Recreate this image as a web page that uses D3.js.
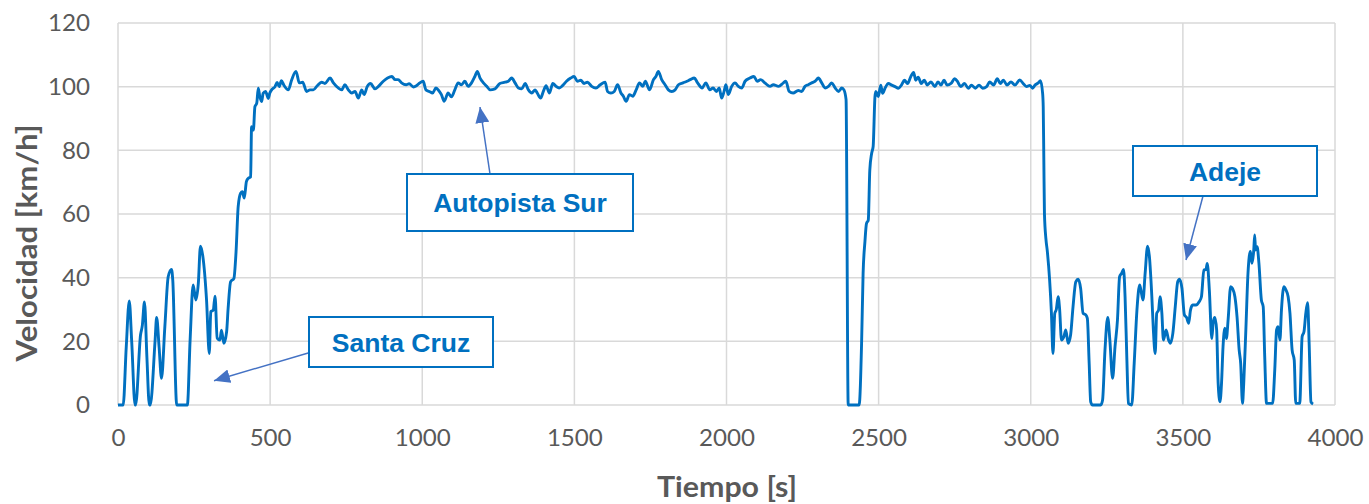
<!DOCTYPE html>
<html><head><meta charset="utf-8">
<script src="https://cdn.jsdelivr.net/npm/d3@7"></script>
<style>body{margin:0;background:#fff}svg{display:block}</style>
</head><body>
<svg id="c" width="1369" height="504"></svg>
<script>
// ---- data ----
const time_s = [0,17,27,37,45,56,58,74,80,87,95,103,106,122,127,135,143,154,165,176,180,193,228,237,247,256,264,271,279,291,300,305,313,319,326,335,340,348,357,362,370,381,388,
395,403,409,415,422,428,436,439,445,450,456,461,466,472,477,485,494,499,505,516,523,530,537,545,
560,571,585,596,607,620,631,642,655,669,680,697,708,724,735,746,757,768,779,790,801,809,819,830,845,856,872,886,900,911,921,932,947,957,971,981,992,1003,1012,1023,1034,1045,1056,1063,1072,1085,1096,1107,1118,1129,1140,1151,1162,1173,1181,1190,1201,1212,1223,
1239,1255,1272,1283,1294,1305,1316,1327,1338,1349,1360,1371,1378,1389,1398,1407,1418,1429,1440,1450,1461,1474,1488,1499,1510,1521,1532,1543,1557,1571,1585,1601,1609,1620,1631,1642,1653,1661,1670,1681,1692,1703,1714,1725,1733,1747,1760,1768,1776,1787,1798,1809,1820,1831,1842,1857,1870,1881,1894,1905,
1920,1932,1945,1956,1967,1976,1984,1992,1998,2006,2017,2028,2039,2050,2061,2077,2090,2101,2112,2126,2143,2154,2171,2187,2195,2206,2219,2236,2247,2258,2269,2280,2291,2302,2313,2324,2335,2346,2357,2368,2379,2386,2393,
2400,2436,2444,2449,2455,2460,2466,2471,2477,2482,2488,2491,2499,2507,2513,2521,2532,2543,2554,2565,
2575,2585,2595,2605,2615,2622,2630,2640,2650,2660,2672,2685,2695,2705,2715,2725,2738,2750,2760,2770,2782,2795,2805,2818,2830,2842,2855,2865,2878,2890,2900,2910,2922,2935,2948,
2964,2975,2986,2997,3006,3014,3025,3032,3039,3041,3043,3045,3050,3054,3062,3068,3073,3079,3084,3090,3095,3101,3109,3115,3123,3131,3139,3148,3156,3164,3172,3181,3186,3192,3197,3203,3230,3236,3244,3253,3260,3269,3277,3285,3292,3299,3305,3310,3316,3321,3332,3340,3349,3358,3362,3369,3376,3384,3390,3398,3403,3409,3414,3420,3425,3431,3436,3445,3453,3459,3467,3475,3483,3489,3497,3505,
3512,3519,3525,3532,3543,3554,3561,3569,3576,3580,3587,3595,3600,3605,3611,3616,3622,3627,3632,3638,3643,3649,3657,3663,3671,3678,3685,3690,3696,3700,3707,3714,3722,3727,3733,3736,3739,3744,3750,3758,3764,3769,3775,3795,3802,3808,3813,3819,3824,3832,3839,3846,3852,3859,3866,3871,3884,3892,3898,3904,3910,3915,3921,3928];
const speed_kmh = [0,0,18,32.7,20,0,0,22,25,32.4,15,0,0,20.4,27.5,18.3,8.4,24.6,40.3,42.6,39.2,0,0,20.4,37.7,33,38.2,49.9,46.6,33,16.2,29.3,29.8,34.2,21,20.4,23.5,19.4,23,30.4,38.7,39.8,48.1,
62.3,66.5,67,65,70.2,71.2,71.7,87.4,86.4,93.7,94.8,99.5,96.9,95.3,97.9,98.5,96.3,98,99,100,101.3,100,101.9,100.5,
99,102.2,104.8,101.2,101.4,98.5,99,99,100.3,101.4,101,102.7,101.2,99.6,99,100.6,99,98,98.5,96.4,99,97.5,100,101,99.3,100.1,101.7,102.7,103.2,102.2,102.2,101.2,100.6,100.9,99.9,100.3,101.2,101.7,99,98.5,98,99.6,98.5,97.5,95.4,98,96.8,99,101.2,100.6,101.7,100.1,101.2,103.2,104.8,102.7,101.2,100.1,99,
99.3,101,101.4,101.7,102.7,101.2,99.6,99.3,101,99,98,99,98,96.4,98.5,100.3,98,101,100.1,99.6,100.3,101.7,102.7,103.2,101.7,102,101,101.4,100.1,99.6,100.6,101.4,98.5,98,98.5,100.6,98,97,95.4,97.5,97,99,101.2,100.1,101.7,99,102.2,103.2,104.8,102.2,100.6,99,98.5,99,100.6,101.2,101.7,102.2,102.7,101.2,
99.6,101.2,99,99.6,98.5,99.6,96.4,98.5,100.6,97.5,100.1,101.2,100.1,99.6,101.7,102.7,103.2,101.7,102.2,101.2,100.1,100.6,100.1,101.2,101.7,98.5,98,98.8,98.5,100.1,100.6,101.2,101.7,102.7,101.2,99.6,100.1,101.2,99.6,98.5,99.6,99,95.9,
0,0,19.4,41.4,51.3,57,58.1,73.8,79,81.2,96.9,98.5,96.9,100.5,97.9,99.5,101,100.5,100,99.5,
100.5,102,101,103,104.5,102,103,101,102,100.5,101.5,100,101.5,100.5,102,100.5,101,102.5,101.5,100,101,99.5,100.5,99.5,100.5,99.5,100,101.5,100.5,102.5,101,102,100.5,101.5,100.5,
102.1,101,100,100.4,99.5,100.5,101.2,101.9,97.9,93.7,77,60.2,52,48.7,39.3,28.8,16.2,28.8,30,34,30,20.4,21.5,23.6,19.4,22,30.9,38.7,39.5,36.6,28.8,28.3,27.2,13.1,1,0,0,1.5,17.3,27.5,20.4,8.4,18.3,26.7,40.3,41.4,42.6,34,14.1,0.5,0,13.1,29.8,37.7,36.1,33,41.4,49.9,46.6,34,23.6,16.2,28.8,29.8,34,28.8,20.4,23.6,20.4,19.4,22.5,30.9,38.7,39.5,36.6,28.3,
27.5,25.7,29.8,31.4,31.4,32.5,34,42.4,42.6,44.5,36.1,20.9,26.2,27.5,23.6,6.8,1,6.8,18.3,24.1,20.9,27.2,37.2,36.6,34,27.7,17.3,13.1,0.5,6.8,23.6,41.4,48.2,44.5,48.7,53.4,48.7,49.7,44.5,33,30.9,15.2,0.5,0.5,11,23.6,24.6,20.4,29.8,37.2,36.1,34,28.8,17.3,14.1,0.5,0.5,21.5,23,28.8,32.1,19.4,1,0.3];
const xTicks = [0,500,1000,1500,2000,2500,3000,3500,4000];
const yTicks = [0,20,40,60,80,100,120];
const xTitle = "Tiempo [s]";
const yTitle = "Velocidad [km/h]";
const labelTexts = ["Santa Cruz","Autopista Sur","Adeje"];

// ---- layout ----
const L = {x0:118, x1:1335, y0:405, y1:23};
const labelLayout = [
  {box:[309,317,184,50], from:[309,352.7], to:[214,380.7]},
  {box:[407,174,226,57], from:[490,174], to:[480,107]},
  {box:[1133,146,184,50], from:[1203,196], to:[1186,260]}
];

const svg = d3.select("#c");
const x = d3.scaleLinear().domain([0,4000]).range([L.x0,L.x1]);
const y = d3.scaleLinear().domain([0,120]).range([L.y0,L.y1]);

// gridlines
const g = svg.append("g");
g.selectAll(".hg").data(yTicks).join("line")
  .attr("x1",L.x0).attr("x2",L.x1).attr("y1",d=>y(d)).attr("y2",d=>y(d))
  .attr("stroke","#d9d9d9").attr("stroke-width",1.5);
g.selectAll(".vg").data(xTicks).join("line")
  .attr("y1",L.y1).attr("y2",L.y0).attr("x1",d=>x(d)).attr("x2",d=>x(d))
  .attr("stroke","#d9d9d9").attr("stroke-width",1.5);

// axes labels
const yAx = svg.append("g").attr("transform",`translate(${L.x0},0)`)
  .call(d3.axisLeft(y).tickValues(yTicks).tickSize(0).tickPadding(28));
const xAx = svg.append("g").attr("transform",`translate(0,${L.y0})`)
  .call(d3.axisBottom(x).tickValues(xTicks).tickSize(0).tickPadding(24).tickFormat(d3.format("d")));
[yAx,xAx].forEach(a=>{
  a.select(".domain").remove();
  a.selectAll("text").attr("font-family","Lato, 'Open Sans', sans-serif").attr("font-size",24)
   .attr("fill","#595959")
   .attr("textLength",function(){return this.textContent.length*14;})
   .attr("lengthAdjust","spacingAndGlyphs");
});

// series
const pts = time_s.map((t,i)=>[t,speed_kmh[i]]);
svg.append("path").datum(pts)
  .attr("d",d3.line().x(d=>x(d[0])).y(d=>y(d[1])).curve(d3.curveMonotoneX))
  .attr("fill","none").attr("stroke","#0070C0").attr("stroke-width",2.9)
  .attr("stroke-linejoin","round");

// titles
svg.append("text").text(xTitle).attr("x",727).attr("y",497)
  .attr("text-anchor","middle").attr("font-family","Lato, sans-serif").attr("font-weight","bold")
  .attr("font-size",28).attr("fill","#595959").attr("textLength",140).attr("lengthAdjust","spacingAndGlyphs");
svg.append("text").text(yTitle).attr("transform","translate(37,243) rotate(-90)")
  .attr("text-anchor","middle").attr("font-family","Lato, sans-serif").attr("font-weight","bold")
  .attr("font-size",28).attr("fill","#595959").attr("textLength",237).attr("lengthAdjust","spacingAndGlyphs");

// annotations
svg.append("defs").append("marker").attr("id","ah")
  .attr("markerUnits","userSpaceOnUse").attr("markerWidth",16).attr("markerHeight",14)
  .attr("refX",16).attr("refY",7).attr("orient","auto")
  .append("path").attr("d","M0,0L16,7L0,14Z").attr("fill","#4472C4");
labelLayout.forEach((a,i)=>{
  svg.append("line").attr("x1",a.from[0]).attr("y1",a.from[1]).attr("x2",a.to[0]).attr("y2",a.to[1])
    .attr("stroke","#4472C4").attr("stroke-width",1.5).attr("marker-end","url(#ah)");
  svg.append("rect").attr("x",a.box[0]).attr("y",a.box[1]).attr("width",a.box[2]).attr("height",a.box[3])
    .attr("fill","#fff").attr("stroke","#0070C0").attr("stroke-width",2);
  svg.append("text").text(labelTexts[i]).attr("x",a.box[0]+a.box[2]/2).attr("y",a.box[1]+a.box[3]/2)
    .attr("dy","0.36em").attr("text-anchor","middle")
    .attr("font-family","'Liberation Sans', Arial, sans-serif").attr("font-weight","bold")
    .attr("font-size",26.5).attr("fill","#0070C0");
});
</script>
</body></html>
